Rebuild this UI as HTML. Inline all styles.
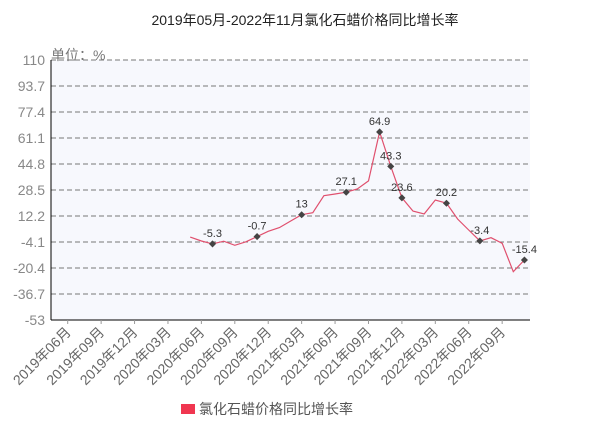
<!DOCTYPE html>
<html><head><meta charset="utf-8"><style>
body{margin:0;background:#fff;}
svg{display:block;font-family:"Liberation Sans","Noto Sans CJK SC",sans-serif;}
</style></head><body>
<svg id="chart" width="610" height="436">
<text x="305" y="25" text-anchor="middle" font-size="14" fill="#222">2019年05月-2022年11月氯化石蜡价格同比增长率</text>
<rect x="51" y="60" width="479" height="260" fill="#f7f8fd"/>
<g id="grid"></g>
<g id="yt"></g>
<text x="51" y="60" font-size="14" fill="#777">单位：%</text>
<line x1="51" y1="60" x2="51" y2="320" stroke="#000"/>
<line x1="51" y1="320" x2="530" y2="320" stroke="#000"/>
<g id="xt"></g>
<path id="line" fill="none" stroke="#e0506e" stroke-width="1.2"/>
<g id="pts"></g>
<rect x="181" y="404" width="14" height="10" fill="#f03650"/>
<text x="199" y="414" font-size="14" fill="#555">氯化石蜡价格同比增长率</text>
</svg>
<script>
const yTicks=[110,93.7,77.4,61.1,44.8,28.5,12.2,-4.1,-20.4,-36.7,-53];
const categories=[];
for(let y=2019,m=5;y<2022||m<=11;){categories.push(y+"年"+String(m).padStart(2,"0")+"月");m++;if(m>12){m=1;y++;}}
const values=[null,null,null,null,null,null,null,null,null,null,null,null,
-1,-3.5,-5.3,-3.6,-6.2,-4,-0.7,2.6,4.9,9,13,14.3,24.9,26,27.1,29.1,34.2,64.9,43.3,23.6,15.3,13.5,22.2,20.2,10.3,3.4,-3.4,-1.4,-4.9,-22.7,-15.4];
const labeledIdx=[14,18,22,26,29,30,31,35,38,42];
const NS="http://www.w3.org/2000/svg";
const L=51,R=530,T=60,B=320,ymin=-53,ymax=110;
const yS=v=>B-(v-ymin)/(ymax-ymin)*(B-T);
const bw=(R-L)/categories.length;
const xS=i=>L+bw*(i+0.5);
function mk(t,a,p){const e=document.createElementNS(NS,t);for(const k in a)e.setAttribute(k,a[k]);p.appendChild(e);return e;}
const grid=document.getElementById('grid'),yt=document.getElementById('yt');
yTicks.forEach(v=>{
 if(v!==ymin){const g=mk('line',{x1:L,x2:R,y1:yS(v),y2:yS(v),stroke:'#777','stroke-dasharray':'5,3'},grid);
 
 }
 const t=mk('text',{x:45,y:yS(v)+5,'text-anchor':'end','font-size':14,fill:'#888'},yt);
 t.textContent=v;
 
 
});
const xt=document.getElementById('xt');
categories.forEach((c,i)=>{
 if(i%3!==1)return;
 const x=xS(i);
 const tk=mk('line',{x1:x,x2:x,y1:B,y2:B+4,stroke:'#999'},xt);
 
 
 const t=mk('text',{x:x+4,y:B+13,'text-anchor':'end','font-size':14,fill:'#666',transform:`rotate(-45 ${x+4} ${B+13})`},xt);
 t.textContent=c;
 
 
});
let d='';values.forEach((v,i)=>{if(v===null)return;d+=(d?'L':'M')+xS(i).toFixed(1)+','+yS(v).toFixed(1);});
document.getElementById('line').setAttribute('d',d);
const pts=document.getElementById('pts');
labeledIdx.forEach(i=>{
 const x=xS(i),y=yS(values[i]);
 const p=mk('rect',{x:x-2.5,y:y-2.5,width:5,height:5,fill:'#444',transform:`rotate(45 ${x} ${y})`},pts);
 
 
 const t=mk('text',{x:x,y:y-7,'text-anchor':'middle','font-size':11,fill:'#333'},pts);
 t.textContent=values[i];
 
 
});
</script>
</body></html>
